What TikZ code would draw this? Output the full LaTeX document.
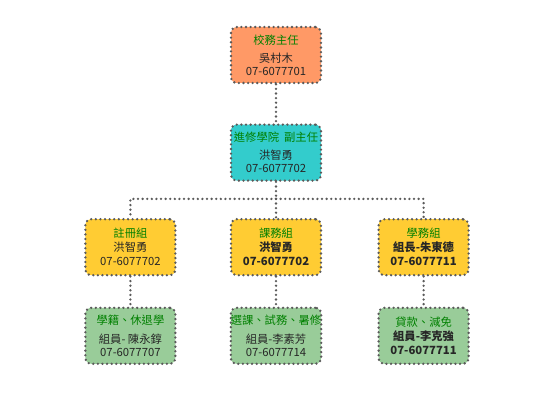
\documentclass[tikz,border=0pt]{standalone}
\usepackage{fontspec}
\setmainfont{Noto Sans CJK TC}
\usepackage{tikz}
\usetikzlibrary{positioning}

\definecolor{boxorange}{HTML}{FF9966}
\definecolor{boxteal}{HTML}{33CCCC}
\definecolor{boxyellow}{HTML}{FFCC33}
\definecolor{boxgreen}{HTML}{99CC99}
\definecolor{titlegreen}{HTML}{008000}
\definecolor{dotgray}{HTML}{5A5A5A}
\newcommand{\unittitle}[1]{\textcolor{titlegreen}{#1}}

\begin{document}
\begin{tikzpicture}[
				x=1pt,y=1pt,
				node distance=36pt and 53pt,
				unit/.style={
					rectangle,
					rounded corners=6pt,
					draw=dotgray,
					line width=2.6pt,
					dash pattern=on 0pt off 4.6pt,
					line cap=round,
					minimum width=90pt,
					minimum height=56pt,
					inner xsep=0pt,
					align=center,
					text=black!85,
					font=\fontsize{11.3}{13}\selectfont
				},
				head/.style={unit,fill=boxorange},
				vicehead/.style={unit,fill=boxteal},
				section/.style={unit,fill=boxyellow},
				desk/.style={unit,fill=boxgreen},
				link/.style={draw=dotgray,line width=2.6pt,dash pattern=on 0pt off 4.6pt,line cap=round}
				]
				\useasboundingbox (0,0) rectangle (550,400);
				\node[head] (director) at (276,345) {\unittitle{校務主任}\\[5pt]吳村木\\07-6077701};
				\node[vicehead, below=39pt of director] (vice) {\unittitle{進修學院\ \ 副主任}\\[5pt]洪智勇\\07-6077702};
				\node[section, below=36pt of vice] (course) {\unittitle{課務組}\\[1pt]\bfseries 洪智勇\\[1pt]\bfseries 07-6077702};
				\node[section, left=of course] (regist) {\unittitle{註冊組}\\[1pt]洪智勇\\[1pt]07-6077702};
				\node[section, right=55pt of course] (student) {\unittitle{學務組}\\[1pt]\bfseries 組長-朱東德\\[1pt]\bfseries 07-6077711};
				\node[desk, below=30pt of regist] (regdesk) {\unittitle{學籍、休退學}\\[6pt]組員- 陳永錞\\07-6077707};
				\node[desk, below=30pt of course] (coursedesk) {\unittitle{選課、試務、暑修}\\[6pt]組員-李素芳\\07-6077714};
				\node[desk, below=30pt of student] (studdesk) {\unittitle{貸款、減免}\\[1pt]\bfseries 組員-李克強\\[1pt]\bfseries 07-6077711};

				\coordinate[below=17pt of vice] (hub);
				\draw[link] (director) -- (vice);
				\draw[link] (vice) -- (hub);
				\draw[link] (hub) -| (regist);
				\draw[link] (hub) -| (student);
				\draw[link] (hub) -- (course);
				\draw[link] (regist) -- (regdesk);
				\draw[link] (course) -- (coursedesk);
				\draw[link] (student) -- (studdesk);
		\end{tikzpicture}
\end{document}
